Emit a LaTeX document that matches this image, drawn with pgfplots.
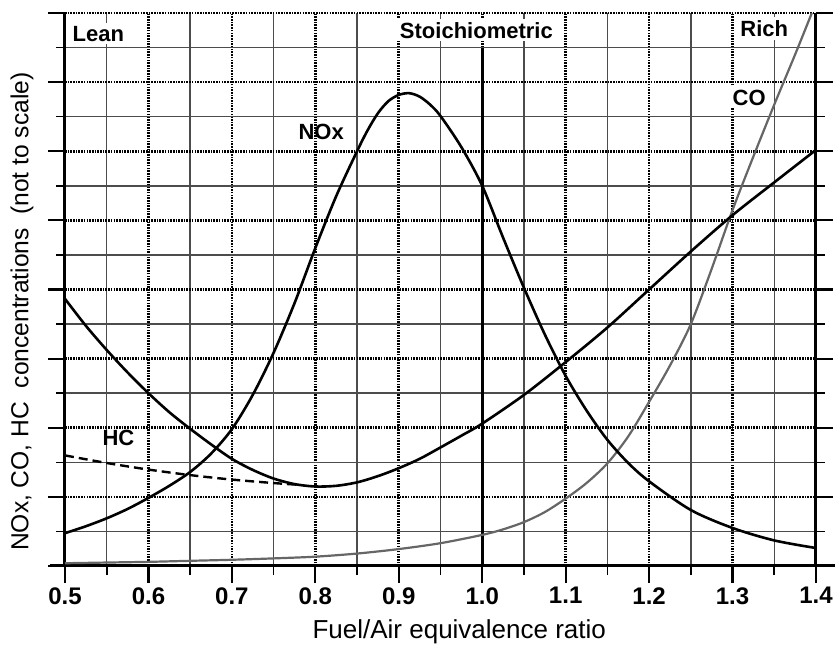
\documentclass[border=0pt]{standalone}
\usepackage{pgfplots}
\pgfplotsset{compat=1.18}
\usepackage{fontspec}
\setmainfont{Liberation Sans}
\begin{document}
\begin{tikzpicture}
\begin{axis}[
  width=375.5pt, height=276.5pt, scale only axis,
  xmin=0.5, xmax=1.4, ymin=0, ymax=16,
  axis x line*=bottom, axis y line*=box,
  clip=false,
  xtick={0.5,0.6,...,1.4},
  xticklabels={0.5,0.6,0.7,0.8,0.9,1.0,1.1,1.2,1.3,1.4},
  ytick={0,2,...,16}, yticklabels={},
  minor x tick num=1, minor y tick num=1,
  ytick pos=both,
  tick align=outside,
  major tick length=8.5pt, minor tick length=4.5pt,
  every tick/.style={black, line width=1.1pt},
  every minor tick/.style={black, line width=0.8pt},
  grid=both,
  major grid style={black, line width=1.3pt, dash pattern=on 0.8pt off 0.55pt},
  minor grid style={black!70, line width=0.7pt},
  axis line style={black, line width=1.5pt},
  x axis line style={shorten <=-7.5pt, shorten >=-9.5pt},
  xticklabel style={font=\bfseries\fontsize{12}{14}\selectfont, inner sep=2pt},
]
\addplot[line width=1.5pt, black] coordinates {(1,0) (1,15.0)};

% CO
\addplot[black!60, line width=1.1pt, smooth] coordinates {
(0.5,0.08) (0.55,0.1) (0.6,0.12) (0.65,0.15) (0.7,0.18) (0.75,0.22) (0.8,0.27) (0.85,0.36) (0.9,0.49) (0.95,0.66) (1.0,0.9) (1.025,1.06) (1.05,1.27) (1.075,1.56) (1.1,1.95) (1.125,2.4) (1.15,2.97) (1.175,3.75) (1.2,4.75) (1.225,5.8) (1.25,7.0) (1.275,8.6) (1.3,10.3) (1.325,11.85) (1.35,13.35) (1.375,14.8) (1.395,16)};

% HC solid
\addplot[black, line width=1.3pt, smooth] coordinates {
(0.5,7.73) (0.525,6.95) (0.55,6.25) (0.575,5.6) (0.6,5.0) (0.625,4.45) (0.65,3.97) (0.675,3.52) (0.7,3.1) (0.725,2.78) (0.75,2.53) (0.775,2.37) (0.8,2.3) (0.825,2.32) (0.85,2.42) (0.875,2.6) (0.9,2.83) (0.925,3.1) (0.95,3.43) (0.975,3.77) (1.0,4.12) (1.05,4.95) (1.1,5.9) (1.15,6.9) (1.2,8.0) (1.25,9.1) (1.3,10.15) (1.35,11.1) (1.4,12.04)};

% HC dashed
\addplot[black, line width=1.2pt, dash pattern=on 4.5pt off 2.5pt, smooth] coordinates {
(0.5,3.2) (0.55,2.98) (0.6,2.79) (0.65,2.63) (0.7,2.5) (0.75,2.4) (0.78,2.35)};

% NOx
\addplot[black, line width=1.3pt, smooth] coordinates {
(0.5,0.95) (0.525,1.15) (0.55,1.38) (0.575,1.65) (0.6,1.97) (0.625,2.32) (0.65,2.72) (0.675,3.25) (0.7,3.96) (0.725,4.95) (0.75,6.17) (0.775,7.6) (0.8,9.2) (0.825,10.7) (0.85,12.0) (0.8625,12.6) (0.875,13.1) (0.8875,13.45) (0.9,13.63) (0.9125,13.68) (0.925,13.58) (0.9375,13.35) (0.95,13.02) (0.975,12.12) (1.0,11.0) (1.025,9.5) (1.05,8.05) (1.075,6.7) (1.1,5.5) (1.125,4.5) (1.15,3.65) (1.175,2.98) (1.2,2.45) (1.25,1.62) (1.3,1.1) (1.35,0.74) (1.4,0.52)};

\begin{scope}[every node/.style={font=\bfseries\fontsize{11}{13}\selectfont, fill=white, inner sep=1.5pt}]
\node at (axis cs:0.54,15.4) {Lean};
\node at (axis cs:0.993,15.5) {Stoichiometric};
\node at (axis cs:1.338,15.55) {Rich};
\node at (axis cs:1.32,13.55) {CO};
\node[fill=none] at (axis cs:0.807,12.55) {NOx};
\node[fill=none] at (axis cs:0.564,3.7) {HC};
\end{scope}

\node[font=\fontsize{13}{15}\selectfont] at ([yshift=-33pt]rel axis cs:0.525,0) {Fuel/Air equivalence ratio};
\node[rotate=90, font=\fontsize{12.3}{14}\selectfont] at ([xshift=-21.5pt]rel axis cs:0,0.46) {NOx, CO, HC\ \ concentrations\ \ (not to scale)};

\path (rel axis cs:0,0) ++(-32.5pt,-44pt) coordinate (bbA);
\path (rel axis cs:1,1) ++(10.5pt,6.5pt) coordinate (bbB);
\path (bbA) rectangle (bbB);
\end{axis}
\end{tikzpicture}
\end{document}
